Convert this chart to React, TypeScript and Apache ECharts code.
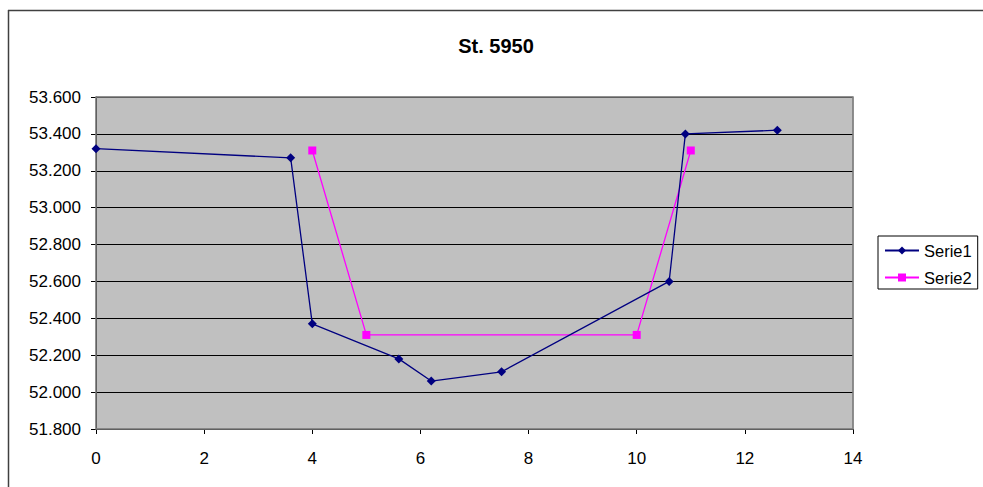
import React, { useEffect, useRef } from "react";
import * as echarts from "echarts";

const titleText = "St. 5950";
const serie1Name = "Serie1";
const serie1X = [0, 3.6, 4, 5.6, 6.2, 7.5, 10.6, 10.9, 12.6];
const serie1Y = [53.32, 53.27, 52.37, 52.18, 52.06, 52.11, 52.6, 53.4, 53.42];
const serie2Name = "Serie2";
const serie2X = [4, 5, 10, 11];
const serie2Y = [53.31, 52.31, 52.31, 53.31];

const FONT = "'Liberation Sans', Arial, sans-serif";

export default function App() {
  const ref = useRef<HTMLDivElement>(null);
  useEffect(() => {
    if (!ref.current) return;
    const chart = echarts.init(ref.current, undefined, { renderer: "svg" });
    const s1 = serie1X.map((x, i) => [x, serie1Y[i]]);
    const s2 = serie2X.map((x, i) => [x, serie2Y[i]]);
    chart.setOption({
      animation: false,
      backgroundColor: "#ffffff",
      textStyle: { fontFamily: FONT },
      grid: {
        left: 96,
        top: 97,
        width: 757,
        height: 332,
        show: true,
        backgroundColor: "#C0C0C0",
        borderColor: "#808080",
        borderWidth: 1,
      },
      graphic: [
        {
          type: "text",
          x: 496,
          y: 46,
          style: {
            text: titleText,
            font: `bold 20px ${FONT}`,
            fill: "#000",
            textAlign: "center",
            textVerticalAlign: "middle",
          },
        },
        {
          type: "line",
          shape: { x1: 8, y1: 10.5, x2: 983, y2: 10.5 },
          style: { stroke: "#404040", lineWidth: 1.5 },
        },
        {
          type: "line",
          shape: { x1: 8.5, y1: 10, x2: 8.5, y2: 487 },
          style: { stroke: "#404040", lineWidth: 1.5 },
        },
        {
          type: "rect",
          shape: { x: 96, y: 97, width: 757, height: 332 },
          style: { fill: "none", stroke: "#808080", lineWidth: 1.5 },
          z: 1,
        },
      ],
      legend: {
        orient: "vertical",
        left: 878,
        top: 236,
        borderColor: "#000",
        borderWidth: 1,
        padding: [6, 6, 3, 6],
        itemGap: 10,
        itemWidth: 34,
        itemHeight: 10,
        textStyle: { fontSize: 16.5, color: "#000", fontFamily: FONT },
        data: [serie1Name, serie2Name],
      },
      xAxis: {
        type: "value",
        min: 0,
        max: 14,
        interval: 2,
        axisLine: { show: true, lineStyle: { color: "#000", width: 1 } },
        axisTick: { show: true, length: 5, lineStyle: { color: "#000" } },
        axisLabel: { fontSize: 17, color: "#000", margin: 21, fontFamily: FONT },
        splitLine: { show: false },
      },
      yAxis: {
        type: "value",
        min: 51.8,
        max: 53.6,
        interval: 0.2,
        axisLine: { show: true, lineStyle: { color: "#000", width: 1 } },
        axisTick: { show: true, length: 5, lineStyle: { color: "#000" } },
        axisLabel: {
          fontSize: 17,
          color: "#000",
          margin: 15,
          fontFamily: FONT,
          formatter: (v: number) => v.toFixed(3),
        },
        splitLine: { show: true, lineStyle: { color: "#000", width: 1 } },
      },
      series: [
        {
          name: serie1Name,
          type: "line",
          data: s1,
          symbol: "diamond",
          symbolSize: 9,
          itemStyle: { color: "#000080" },
          lineStyle: { color: "#000080", width: 1.3 },
          z: 3,
        },
        {
          name: serie2Name,
          type: "line",
          data: s2,
          symbol: "rect",
          symbolSize: 8,
          itemStyle: { color: "#FF00FF" },
          lineStyle: { color: "#FF00FF", width: 1.3 },
          z: 2,
        },
      ],
    });
    return () => chart.dispose();
  }, []);
  return (
    <div
      ref={ref}
      style={{ position: "absolute", left: 0, top: 0, width: 983, height: 487, background: "#fff" }}
    />
  );
}
